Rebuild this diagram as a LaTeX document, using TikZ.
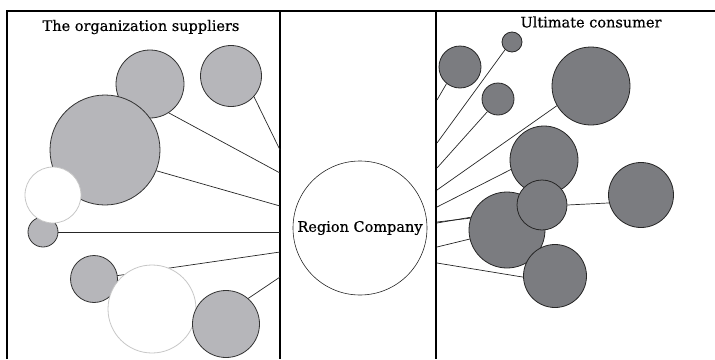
\documentclass[tikz,border=0pt]{standalone}
\usepackage{fontspec}
\setmainfont{DejaVu Serif}[FakeBold=0.5]
\begin{document}
\begin{tikzpicture}[x=1pt,y=-1pt,
  lc/.style={circle,draw=black!80,line width=0.8pt,fill=lgray,inner sep=0pt},
  wc/.style={circle,draw=black!22,line width=0.8pt,fill=white,inner sep=0pt},
  dc/.style={circle,draw=black!85,line width=0.8pt,fill=dgray,inner sep=0pt},
  conn/.style={line width=0.7pt,draw=black!85},
  lbl/.style={font=\fontsize{14.5}{16}\selectfont,inner sep=0pt}]
\definecolor{lgray}{HTML}{B6B6BA}
\definecolor{dgray}{HTML}{7B7C80}
\useasboundingbox (0,0) rectangle (715,359);
% frame
\draw[line width=1.3pt] (7,359) -- (7,11) -- (715,11);
\draw[line width=2pt] (280,11) -- (280,359);
\draw[line width=2pt] (436,11) -- (436,359);
% titles
\node[lbl] (t1) at (141,27) {The organization suppliers};
\node[lbl] (t2) at (591,22) {Ultimate consumer};
% anchor coordinates on the divider lines
\coordinate (a1) at (280,173);
\coordinate (a2) at (280,150);
\coordinate (a3) at (280,206);
\coordinate (a5) at (280,232);
\coordinate (a6) at (280,252);
\coordinate (a8) at (280,277);
\coordinate (b1) at (437,100);
\coordinate (b2) at (437,143);
\coordinate (b3) at (437,168);
\coordinate (b4) at (437,190);
\coordinate (b5) at (437,207);
\coordinate (b7) at (437,222);
\coordinate (b8) at (437,223);
\coordinate (b7b) at (437,247);
\coordinate (b9) at (437,263);
% circle centres
\path (150,84) coordinate (pC1) (231,76) coordinate (pC2) (105,150) coordinate (pC3)
      (53,195) coordinate (pC4) (43,232) coordinate (pC5) (94,279) coordinate (pC6)
      (152,309) coordinate (pC7) (226,324) coordinate (pC8);
\path (460,67) coordinate (pR1) (512,42) coordinate (pR2) (498,99) coordinate (pR3)
      (591,86) coordinate (pR4) (544,160) coordinate (pR5) (641,195) coordinate (pR6)
      (507,230) coordinate (pR7) (542,205) coordinate (pR8) (555,276) coordinate (pR9);
% connectors drawn first (behind circles)
\draw[conn] (pC6) -- (a6);
\draw[conn] (pC5) -- (a5);
\draw[conn] (pR8) -- (b8);
\draw[conn] (pR7) -- (b7b);
% left circles
\node[lc,minimum size=68pt] (C1) at (pC1) {};
\node[lc,minimum size=61pt] (C2) at (pC2) {};
\node[lc,minimum size=110pt] (C3) at (pC3) {};
\node[lc,minimum size=30pt] (C5) at (pC5) {};
\node[wc,minimum size=56pt] (C4) at (pC4) {};
\node[lc,minimum size=47pt] (C6) at (pC6) {};
\node[wc,minimum size=88pt] (C7) at (pC7) {};
\node[lc,minimum size=67pt] (C8) at (pC8) {};
\draw[conn] (C1.-57) -- (a1);
\draw[conn] (C2.-42) -- (a2);
\draw[conn] (C3.-22) -- (a3);
\draw[conn] (C8.49) -- (a8);
% center
\node[circle,draw=black!85,line width=0.6pt,minimum width=134pt,inner sep=0pt,
      label={[lbl]center:Region Company}] (RC) at (360,228) {};
% right circles
\node[dc,minimum size=42pt] (R1) at (pR1) {};
\node[dc,minimum size=20pt] (R2) at (pR2) {};
\node[dc,minimum size=32pt] (R3) at (pR3) {};
\node[dc,minimum size=78pt] (R4) at (pR4) {};
\node[dc,minimum size=68pt] (R5) at (pR5) {};
\node[dc,minimum size=65pt] (R6) at (pR6) {};
\node[dc,minimum size=76pt] (R7) at (pR7) {};
\node[dc,minimum size=63pt] (R9) at (pR9) {};
\node[dc,minimum size=50pt] (R8) at (pR8) {};
\draw[conn] (R1.231) -- (b1);
\draw[conn] (R2.228) -- (b2);
\draw[conn] (R3.230) -- (b3);
\draw[conn] (R4.210) -- (b4);
\draw[conn] (R5.196) -- (b5);
\draw[conn] (R7.162) -- (b7);
\draw[conn] (R9.182) -- (b9);
\draw[conn] (R8.east) -- (R6.194);
\end{tikzpicture}
\end{document}
